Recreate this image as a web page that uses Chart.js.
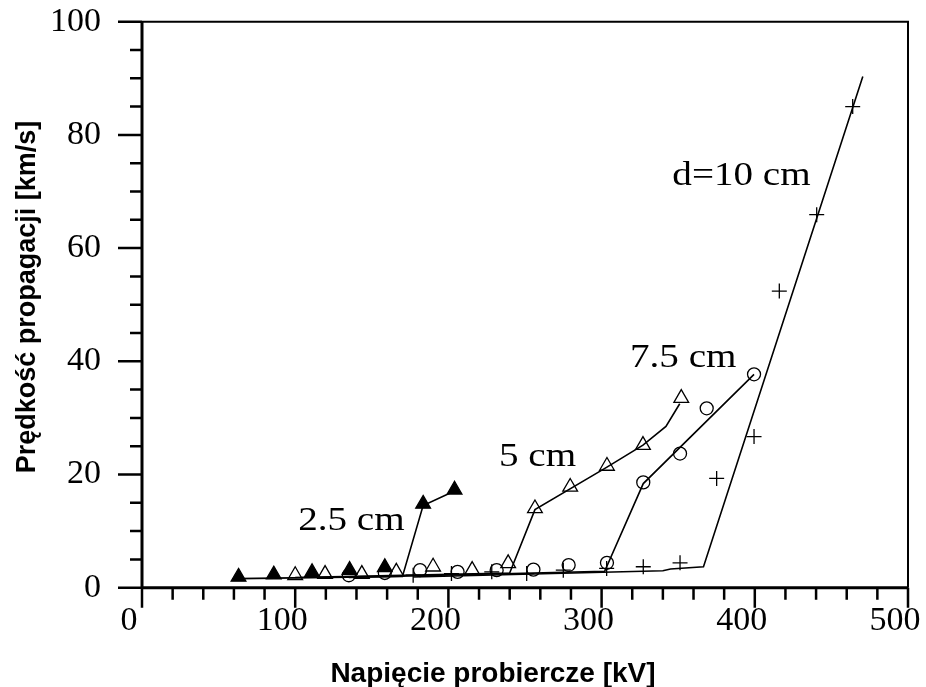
<!DOCTYPE html>
<html><head><meta charset="utf-8">
<script src="https://cdn.jsdelivr.net/npm/chart.js@4/dist/chart.umd.min.js"></script>
<style>html,body{margin:0;padding:0;background:#fff}#wrap{width:926px;height:687px;position:relative}canvas{display:block}</style>
</head><body><div id="wrap"><canvas id="c" width="926" height="687" style="width:926px;height:687px"></canvas></div>
<script>
// ---- axis ticks ----
const xTickValues = [0, 100, 200, 300, 400, 500];
const yTickValues = [0, 20, 40, 60, 80, 100];
const xMinorStep = 20;
const yMinorStep = 5;

// ---- measured points (x = kV, y = km/s) ----
// d = 2.5 cm (filled triangles)
const d25X = [63, 86, 111, 135.5, 158.5, 183.5, 204];
const d25Y = [1.9, 2.3, 2.7, 3.1, 3.6, 14.8, 17.3];
// d = 5 cm (open triangles)
const d5X = [100, 119.5, 143.5, 166, 190, 215.5, 239, 256.5, 279.5, 303.5, 327, 352];
const d5Y = [2.2, 2.4, 2.4, 2.8, 3.7, 3.1, 4.3, 14.0, 17.8, 21.5, 25.2, 33.5];
// d = 7.5 cm (open circles)
const d75X = [135, 158.5, 181.5, 206, 231.5, 255.5, 278.5, 303.5, 327.2, 351.2, 368.6, 399.5];
const d75Y = [2.2, 2.6, 3.1, 2.8, 3.1, 3.2, 4.0, 4.4, 18.6, 23.7, 31.7, 37.7];
// d = 10 cm (crosses)
const d10X = [177, 202, 228.3, 251.1, 275, 303.3, 327.2, 351.2, 375.1, 399.5, 416, 440.4, 463.9];
const d10Y = [2.2, 2.5, 2.8, 2.5, 3.1, 3.4, 3.7, 4.4, 19.3, 26.7, 52.4, 65.9, 85.0];

// ---- hand-drawn trend lines (vertices) ----
const t25X = [63, 170, 183.5, 204];
const t25Y = [1.6, 2.0, 14.5, 17.1];
const t5X = [100, 240, 256.5, 303.5, 327, 342, 351];
const t5Y = [1.8, 2.6, 13.8, 21.3, 25.2, 28.5, 32.5];
const t75X = [135, 302, 327.2, 399.5];
const t75Y = [1.8, 2.9, 18.4, 37.7];
const t10X = [177, 340, 345, 366.5, 470.5];
const t10Y = [1.9, 3.0, 3.3, 3.7, 90.3];

// ---- annotations ----
const annoText = ['2.5 cm', '5 cm', '7.5 cm', 'd=10 cm'];
const annoX = [136.7, 258.2, 353.3, 391.3];
const annoY = [11.8, 23.0, 40.6, 72.7];

const xTitle = 'Napięcie probiercze [kV]';
const yTitle = 'Prędkość propagacji [km/s]';

const pts = (xs, ys) => xs.map((v, i) => ({x: v, y: ys[i]}));
const lineDs = (xs, ys) => ({data: pts(xs, ys), showLine: true, borderColor: '#000', borderWidth: 1.6, pointRadius: 0, tension: 0});
const markDs = (xs, ys, style, r, filled) => ({
  data: pts(xs, ys), showLine: false, pointStyle: style, pointRadius: r,
  pointBorderColor: '#000', pointBackgroundColor: filled ? '#000' : 'rgba(0,0,0,0)', pointBorderWidth: 1.3
});

const decor = {
  id: 'decor',
  afterDraw(chart) {
    const {ctx, chartArea: a, scales: {x, y}} = chart;
    ctx.save();
    ctx.strokeStyle = '#000';
    ctx.lineCap = 'butt';
    // top and right frame
    ctx.lineWidth = 2;
    ctx.beginPath();
    ctx.moveTo(a.left, a.top); ctx.lineTo(a.right, a.top); ctx.lineTo(a.right, a.bottom);
    ctx.stroke();
    // main axes
    ctx.lineWidth = 3;
    ctx.beginPath();
    ctx.moveTo(a.left, a.top); ctx.lineTo(a.left, a.bottom);
    ctx.moveTo(a.left, a.bottom); ctx.lineTo(a.right, a.bottom);
    ctx.stroke();
    // ticks
    ctx.lineWidth = 2.5;
    ctx.beginPath();
    const yMax = yTickValues[yTickValues.length - 1];
    const xMax = xTickValues[xTickValues.length - 1];
    for (let v = 0; v <= yMax; v += yMinorStep) {
      const py = y.getPixelForValue(v);
      const len = yTickValues.includes(v) ? 24 : 12;
      ctx.moveTo(a.left - len, py); ctx.lineTo(a.left, py);
    }
    for (let v = 0; v <= xMax; v += xMinorStep) {
      const px = x.getPixelForValue(v);
      const len = xTickValues.includes(v) ? 20 : 12;
      ctx.moveTo(px, a.bottom); ctx.lineTo(px, a.bottom + len);
    }
    ctx.stroke();
    // annotations
    ctx.fillStyle = '#000';
    ctx.font = '34px "Liberation Serif", "Times New Roman", serif';
    ctx.textAlign = 'center';
    ctx.textBaseline = 'middle';
    annoText.forEach((t, i) => {
      ctx.save();
      ctx.translate(x.getPixelForValue(annoX[i]), y.getPixelForValue(annoY[i]));
      ctx.scale(1.15, 1);
      ctx.fillText(t, 0, 0);
      ctx.restore();
    });
    // axis titles
    ctx.font = 'bold 28px "Liberation Sans", Arial, sans-serif';
    ctx.textBaseline = 'alphabetic';
    ctx.fillText(xTitle, 493, 682);
    ctx.save();
    ctx.translate(35, 297);
    ctx.rotate(-Math.PI / 2);
    ctx.font = 'bold 27px "Liberation Sans", Arial, sans-serif';
    ctx.fillText(yTitle, 0, 0);
    ctx.restore();
    ctx.restore();
  }
};

new Chart(document.getElementById('c'), {
  type: 'scatter',
  data: {
    datasets: [
      markDs(d25X, d25Y, 'triangle', 8.5, true),
      markDs(d5X, d5Y, 'triangle', 8.5, false),
      markDs(d75X, d75Y, 'circle', 6.5, false),
      markDs(d10X, d10Y, 'cross', 7.5, false),
      lineDs(t25X, t25Y),
      lineDs(t5X, t5Y),
      lineDs(t75X, t75Y),
      lineDs(t10X, t10Y)
    ]
  },
  options: {
    responsive: false,
    maintainAspectRatio: false,
    animation: false,
    devicePixelRatio: 1,
    layout: {padding: {left: 0, right: 18, top: 21.7, bottom: 0}},
    plugins: {legend: {display: false}, tooltip: {enabled: false}},
    scales: {
      x: {
        type: 'linear', min: 0, max: 500,
        afterBuildTicks: s => { s.ticks = xTickValues.map(v => ({value: v})); },
        afterFit: s => { s.height = 99.3; s.paddingLeft = 0; s.paddingRight = 0; },
        grid: {display: false, drawTicks: false},
        border: {display: false},
        ticks: {color: '#000', padding: 13, labelOffset: -13, maxRotation: 0, autoSkip: false,
                font: {family: '"Liberation Serif", "Times New Roman", serif', size: 34, lineHeight: 1.2}},
        title: {display: false}
      },
      y: {
        type: 'linear', min: 0, max: 100,
        afterBuildTicks: s => { s.ticks = yTickValues.map(v => ({value: v})); },
        afterFit: s => { s.width = 142; s.paddingTop = 0; s.paddingBottom = 0; },
        grid: {display: false, drawTicks: false},
        border: {display: false},
        ticks: {color: '#000', padding: 41, autoSkip: false,
                font: {family: '"Liberation Serif", "Times New Roman", serif', size: 34}},
        title: {display: false}
      }
    }
  },
  plugins: [decor]
});
</script>
</body></html>
